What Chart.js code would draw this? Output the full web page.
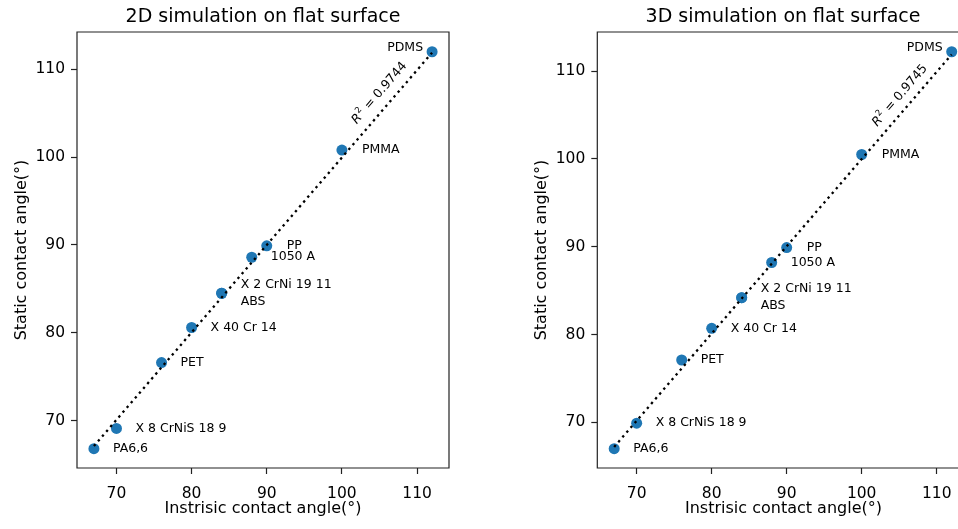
<!DOCTYPE html>
<html>
<head>
<meta charset="utf-8">
<script src="https://cdn.jsdelivr.net/npm/chart.js@4"></script>
<style>
html,body{margin:0;padding:0;overflow:hidden;background:#fff;width:958px;height:529px}
canvas{position:absolute;top:0}
#c2d{left:0}
#c3d{left:479px}
</style>
</head>
<body>
<canvas id="c2d" width="479" height="529"></canvas>
<canvas id="c3d" width="479" height="529"></canvas>
<script>
const materials = ['PA6,6','X 8 CrNiS 18 9','PET','X 40 Cr 14','X 2 CrNi 19 11','ABS','1050 A','PP','PMMA','PDMS'];
const intrinsic = [67, 70, 76, 80, 84, 84, 88, 90, 100, 112];
const static2D = [66.8, 69.1, 76.6, 80.6, 84.5, 84.5, 88.6, 89.9, 100.8, 112.0];
const static3D = [67.0, 69.9, 77.1, 80.7, 84.2, 84.2, 88.2, 89.9, 100.5, 112.2];
const fitX = [67, 112];
const fit2D = [67.1, 111.9];
const fit3D = [67.2, 111.9];
const r2Values = ['0.9744', '0.9745'];
const xTicks = [70, 80, 90, 100, 110];
const yTicks = [70, 80, 90, 100, 110];
const xLabel = 'Instrisic contact angle(°)';
const yLabel = 'Static contact angle(°)';

// label offsets in px from the marker (PDMS sits on the left of its marker)
const labelOffsets = [[19,0],[19,0],[19,0],[19,0],[19,-8.5],[19,8.5],[19,0],[20,0],[20,0],[-9,-4.5]];

const FONT = '"DejaVu Sans", sans-serif';

const annotate = {
  id: 'annotate',
  afterLayout(chart, args, opts){
    // chart.js keeps a few px for the markers at the edge; the right panel runs to the border
    if(!opts.openRight) return;
    const a = chart.chartArea, xs = chart.scales.x;
    a.right = chart.width;
    a.width = a.right - a.left;
    xs.right = a.right;
    xs.width = xs.right - xs.left;
    xs.configure();
  },
  afterDatasetsDraw(chart, args, opts){
    const ctx = chart.ctx;
    const pts = chart.getDatasetMeta(1).data;
    ctx.save();
    ctx.fillStyle = '#000';
    ctx.font = '12.5px ' + FONT;
    ctx.textBaseline = 'middle';
    materials.forEach((m,i)=>{
      const off = labelOffsets[i];
      ctx.textAlign = off[0] < 0 ? 'right' : 'left';
      ctx.fillText(m, pts[i].x + off[0], pts[i].y + off[1]);
    });

    // R² along the fitted line
    const line = chart.getDatasetMeta(0).data;
    const ang = Math.atan2(line[1].y - line[0].y, line[1].x - line[0].x);
    const cx = chart.scales.x.getPixelForValue(opts.r2At[0]);
    const cy = chart.scales.y.getPixelForValue(opts.r2At[1]);
    const fR = 'italic 12.5px ' + FONT, fS = '8.5px ' + FONT, fN = '12.5px ' + FONT;
    const rest = ' = ' + opts.r2;
    ctx.font = fR; const wR = ctx.measureText('R').width;
    ctx.font = fS; const wS = ctx.measureText('2').width;
    ctx.font = fN; const wN = ctx.measureText(rest).width;
    let x0 = -(wR + wS + 1 + wN) / 2;
    ctx.translate(cx, cy);
    ctx.rotate(ang);
    ctx.textAlign = 'left';
    ctx.font = fR; ctx.fillText('R', x0, 0); x0 += wR + 0.5;
    ctx.font = fS; ctx.fillText('2', x0, -4.5); x0 += wS + 0.5;
    ctx.font = fN; ctx.fillText(rest, x0, 0);
    ctx.restore();
  },
  afterDraw(chart, args, opts){
    const ctx = chart.ctx, a = chart.chartArea;
    ctx.save();
    ctx.strokeStyle = '#222';
    ctx.lineWidth = 1.2;
    ctx.beginPath();
    if(opts.openRight){
      // right spine falls outside the picture
      ctx.moveTo(a.right + 1, a.top);
      ctx.lineTo(a.left, a.top);
      ctx.lineTo(a.left, a.bottom);
      ctx.lineTo(a.right + 1, a.bottom);
    } else {
      ctx.rect(a.left, a.top, a.right - a.left, a.bottom - a.top);
    }
    ctx.stroke();
    ctx.fillStyle = '#000';
    ctx.textAlign = 'center';
    ctx.textBaseline = 'middle';
    ctx.font = '19px ' + FONT;
    ctx.fillText(opts.title, opts.titleX !== undefined ? opts.titleX : (a.left + a.right) / 2, 17);
    if(opts.xTitleX !== undefined){
      // centred on the full (cut) axis, not on the visible part
      ctx.font = '16px ' + FONT;
      ctx.fillText(xLabel, opts.xTitleX, chart.height - 11 - 9.6);
    }
    ctx.restore();
  }
};

function makeChart(id, ys, fitY, r2, r2At, title, xRange, yRange, pad, extra){
  return new Chart(document.getElementById(id), {
    type: 'scatter',
    data: {
      datasets: [{
        type: 'line',
        data: fitX.map((x,i)=>({x: x, y: fitY[i]})),
        borderColor: '#000',
        borderWidth: 2.3,
        borderDash: [2.4, 3.9],
        pointRadius: 0,
        fill: false
      },{
        data: intrinsic.map((x,i)=>({x: x, y: ys[i]})),
        backgroundColor: '#1f77b4',
        borderWidth: 0,
        pointRadius: 5.5,
        pointHoverRadius: 5.5
      }]
    },
    options: {
      responsive: false,
      animation: false,
      devicePixelRatio: 1,
      layout: {padding: pad, autoPadding: false},
      plugins: {
        legend: {display: false},
        tooltip: {enabled: false},
        annotate: Object.assign({title: title, r2: r2, r2At: r2At}, extra)
      },
      scales: {
        x: {
          type: 'linear',
          min: xRange[0], max: xRange[1],
          afterBuildTicks: s => { s.ticks = xTicks.map(v=>({value: v})); },
          afterFit: s => { s.height = 61; },
          grid: {drawOnChartArea: false, drawTicks: true, tickLength: 6, tickWidth: 1.2, tickColor: '#222'},
          border: {display: false},
          ticks: {color: '#000', padding: 11, font: {family: FONT, size: 15.5}},
          title: {display: extra.xTitleX === undefined, text: xLabel, color: '#000',
                  padding: {top: 0, bottom: 11}, font: {family: FONT, size: 16}}
        },
        y: {
          type: 'linear',
          min: yRange[0], max: yRange[1],
          afterBuildTicks: s => { s.ticks = yTicks.map(v=>({value: v})); },
          afterFit: s => { s.width = 77; },
          grid: {drawOnChartArea: false, drawTicks: true, tickLength: 6, tickWidth: 1.2, tickColor: '#222'},
          border: {display: false},
          ticks: {color: '#000', padding: 6, font: {family: FONT, size: 15.5}},
          title: {display: true, text: yLabel, color: '#000',
                  padding: {top: 12.4, bottom: 0}, font: {family: FONT, size: 16}}
        }
      }
    },
    plugins: [annotate]
  });
}

makeChart('c2d', static2D, fit2D, r2Values[0], [105.0, 107.3], '2D simulation on flat surface',
  [64.75, 114.25], [64.6, 114.25], {left: 0, right: 30, top: 32, bottom: 0}, {});
// the right panel is cut by the picture edge, so its x axis stops at the border
makeChart('c3d', static3D, fit3D, r2Values[1], [105.1, 107.2], '3D simulation on flat surface',
  [64.75, 112.84], [64.8, 114.45], {left: 41.3, right: 0, top: 32, bottom: 0},
  {openRight: true, titleX: 304, xTitleX: 304.5});
</script>
</body>
</html>
